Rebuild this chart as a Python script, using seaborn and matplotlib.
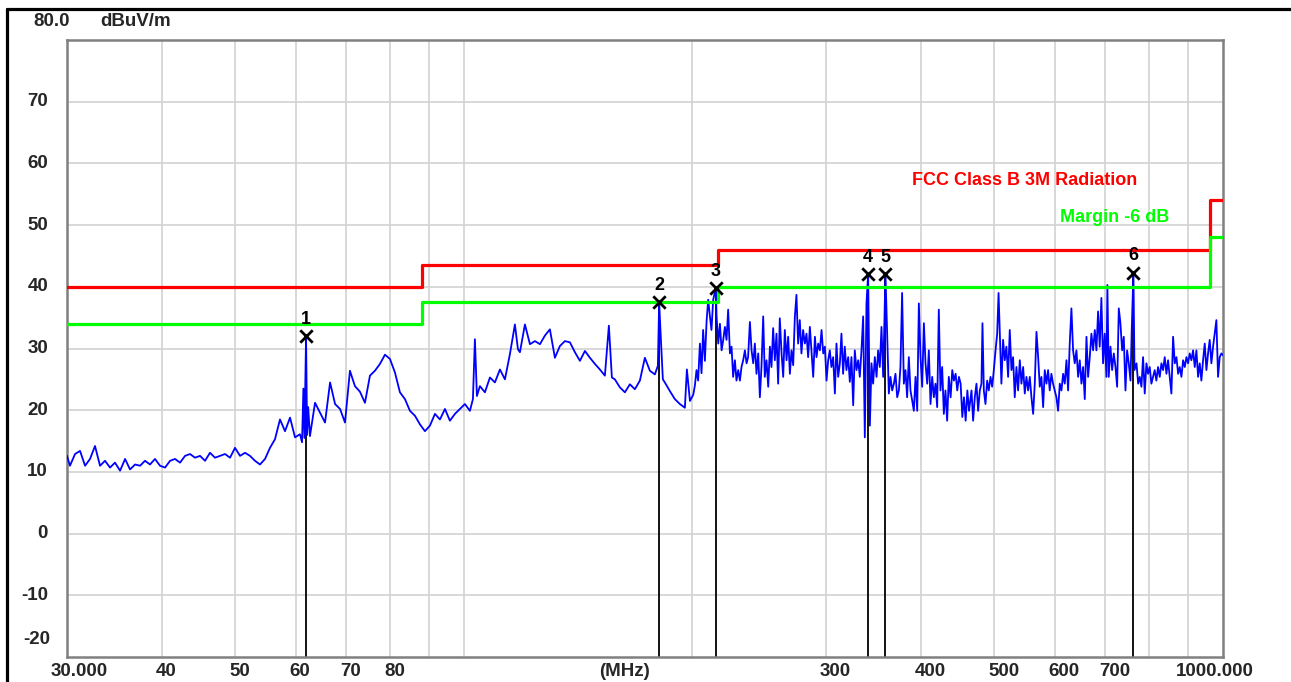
import matplotlib
matplotlib.use("Agg")
import matplotlib.pyplot as plt
import seaborn as sns
from matplotlib.lines import Line2D
from matplotlib.transforms import ScaledTranslation, blended_transform_factory

# ---------------- data ----------------
trace_freq = [
    30.00, 30.27, 30.74, 31.21, 31.69, 32.17, 32.66, 33.16, 33.67, 34.18, 34.70, 35.24, 35.78, 36.32,
    36.88, 37.44, 38.01, 38.59, 39.18, 39.78, 40.39, 41.01, 41.63, 42.27, 42.92, 43.57, 44.24, 44.91,
    45.60, 46.29, 47.00, 47.72, 48.45, 49.19, 49.94, 50.71, 51.48, 52.26, 53.06, 53.87, 54.70, 55.53,
    56.38, 57.24, 58.12, 59.01, 59.91, 60.82, 61.20, 61.45, 61.65, 61.95, 62.15, 62.35,
    62.69, 63.66, 64.63, 65.62, 66.63, 67.65, 68.68, 69.72, 70.77, 71.85, 72.95, 74.07, 75.20, 76.35,
    77.52, 78.70, 79.91, 81.13, 82.36, 83.62, 84.90, 86.20, 87.52, 88.85, 90.21, 91.59, 92.99, 94.41,
    95.84, 97.31, 98.79, 100.30, 101.84, 102.77, 103.39, 104.02, 104.97, 106.58, 108.21, 109.86,
    111.54, 113.25, 114.98, 116.73, 117.80, 118.52, 120.33, 122.17, 124.04, 125.94, 127.86, 129.80,
    131.79, 133.80, 135.85, 137.93, 140.03, 142.17, 144.35, 146.55, 148.79, 151.05, 153.36, 155.23,
    156.65, 158.08, 160.50, 162.95, 165.44, 167.97, 170.54, 173.14, 175.78, 178.47, 180.10, 180.80,
    181.75, 182.85, 183.96, 186.77, 189.63, 192.53, 195.47, 196.67,
    198.5, 200.5, 201.5, 202.5, 203.5, 204.6, 205.6, 206.6, 207.7, 208.8, 209.8, 210.9, 211.9, 213.0,
    214.7, 215.2, 216.3, 217.4, 218.5, 219.6, 220.7, 221.8, 222.9, 224.1, 225.2, 226.3, 227.5, 228.6,
    229.8, 231.0, 232.1, 233.3, 234.5, 235.7, 236.8, 238.1, 239.3, 240.5, 241.7, 242.9, 244.2, 245.4,
    246.6, 247.9, 249.1, 250.4, 251.7, 253.0, 254.2, 255.5, 256.8, 258.1, 259.4, 260.7, 262.1, 263.4,
    264.7, 266.1, 267.4, 268.8, 270.1, 271.5, 272.9, 274.2, 275.6, 277.0, 278.4, 279.8, 281.3, 282.7,
    284.1, 285.6, 287.0, 288.5, 290.0, 291.4, 292.9, 294.4, 295.9, 297.4, 298.9, 300.4, 301.9, 303.4,
    304.9, 306.5, 308.1, 309.6, 311.2, 312.8, 314.3, 315.9, 317.5, 319.1, 320.8, 322.4, 324.0, 325.7,
    327.3, 329.0, 330.7, 332.3, 334.0, 335.7, 337.4, 339.1, 340.8, 342.6, 344.3, 346.0, 347.8, 349.6,
    351.3, 353.1, 354.9, 356.7, 359.2, 361.1, 362.9, 364.7, 366.6, 368.5, 370.3, 372.2, 374.1, 375.9,
    377.8, 379.8, 381.7, 383.6, 385.6, 387.5, 389.5, 391.5, 393.5, 395.5, 397.5, 399.5, 401.5, 403.6,
    405.6, 407.7, 409.7, 411.8, 413.9, 416.0, 418.1, 420.2, 422.3, 424.4, 426.6, 428.8, 430.9, 433.1,
    435.3, 437.7, 439.9, 442.1, 444.4, 446.6, 448.9, 451.2, 453.5, 455.8, 458.1, 460.5, 462.8,
    466.3, 468.6, 471.0, 473.4, 475.8, 478.2, 480.6, 482.1, 484.1, 486.5, 489.0, 491.4, 494.0, 496.5,
    499.0, 501.6, 504.1, 506.2, 508.1, 510.6, 513.2, 515.8, 518.4, 521.1, 523.7, 526.4, 529.0, 531.7,
    534.4, 537.1, 539.9, 542.6, 545.4, 548.1, 550.9, 553.7, 556.5, 559.3, 562.2, 565.0, 567.9, 570.8,
    573.6, 576.5, 579.5, 582.4, 585.4, 588.3, 591.2, 594.2, 597.2, 600.3, 603.3, 606.4, 609.5, 612.6,
    615.7, 618.8, 622.0, 625.1, 628.2, 631.4, 634.6, 637.8, 641.1, 644.4, 647.6, 650.9, 654.2, 657.5,
    660.9, 664.2, 667.5, 670.9, 674.3, 677.8, 681.2, 684.6, 688.0, 691.5, 695.0, 698.6, 702.1, 704.2,
    707.1, 710.8, 714.4, 718.0, 721.7, 725.3, 729.0, 732.6, 736.4, 740.1, 743.9, 747.6, 751.4, 755.3,
    758.3, 762.1, 764.5, 769.2, 773.1, 776.8, 780.8, 784.7, 788.7, 792.7, 796.7, 800.7, 804.8, 808.8,
    812.9, 817.0, 821.2, 825.4, 829.6, 833.8, 838.0, 842.3, 846.5, 850.8, 855.1, 859.5, 863.9, 868.3,
    872.7, 877.0, 881.5, 886.0, 890.5, 895.0, 899.5, 904.0, 908.6, 913.2, 917.9, 922.5, 927.2, 931.8,
    936.5, 941.3, 946.1, 950.9, 955.7, 960.5, 965.4, 970.3, 975.2, 980.1, 985.1, 990.1, 995.1, 1000.0,
]
trace_level = [
    12.6, 11.0, 12.9, 13.4, 11.0, 12.1, 14.2, 11.0, 11.8, 10.7, 11.5, 10.2, 12.1, 10.4,
    11.2, 11.0, 11.8, 11.2, 12.1, 11.0, 10.7, 11.8, 12.1, 11.5, 12.6, 12.9, 12.3, 12.6,
    11.8, 13.1, 12.3, 12.6, 12.9, 12.3, 13.9, 12.6, 13.1, 12.6, 11.8, 11.2, 12.1, 13.9,
    15.3, 18.5, 16.6, 18.8, 15.6, 16.1, 14.8, 23.5, 15.5, 32.0, 16.0, 20.5,
    15.8, 21.2, 19.6, 18.0, 24.5, 21.0, 20.2, 18.0, 26.4, 23.9, 23.0, 21.2, 25.6, 26.4,
    27.5, 29.0, 28.3, 26.1, 22.9, 21.8, 19.9, 19.1, 17.7, 16.6, 17.5, 19.4, 18.5, 20.2,
    18.3, 19.4, 20.2, 21.0, 19.9, 21.8, 31.5, 22.3, 23.9, 22.9, 25.3, 24.5,
    26.6, 25.0, 29.1, 33.9, 29.9, 29.4, 33.9, 30.7, 31.2, 30.7, 32.1, 33.1,
    28.5, 30.4, 31.2, 31.0, 29.4, 28.0, 29.6, 28.5, 27.5, 26.6, 25.6, 33.7,
    25.3, 25.0, 23.7, 22.9, 24.2, 23.4, 24.8, 28.5, 26.4, 25.8, 27.2, 37.5,
    31.5, 25.0, 24.5, 23.1, 21.8, 21.0, 20.4, 26.6,
    21.5, 22.5, 24.0, 26.5, 24.8, 30.8, 26.0, 33.0, 28.0, 34.5, 37.9, 35.2, 33.0, 37.9,
    39.8, 35.2, 30.8, 34.0, 29.7, 31.4, 33.5, 31.4, 36.3, 29.2, 30.3, 25.4, 28.1, 24.8,
    26.5, 24.8, 27.0, 28.1, 29.7, 27.6, 28.6, 34.3, 29.7, 27.6, 30.8, 25.9, 29.2, 22.1,
    27.0, 35.2, 25.4, 28.1, 23.8, 30.3, 27.0, 33.3, 28.1, 32.4, 24.3, 34.9, 29.2, 25.4,
    33.0, 28.1, 31.9, 25.9, 29.7, 27.3, 35.2, 38.7, 30.8, 34.6, 29.2, 33.0, 30.8, 32.4,
    28.6, 33.5, 29.7, 25.4, 31.9, 28.6, 30.8, 29.7, 33.0, 29.2, 30.3, 24.8, 28.1, 29.7,
    27.0, 28.6, 22.7, 30.8, 25.4, 27.6, 32.4, 25.9, 30.3, 26.5, 28.6, 24.6, 28.6, 20.8,
    29.7, 26.5, 28.1, 25.4, 29.7, 35.2, 15.6, 37.3, 42.1, 17.5, 27.6, 24.3, 28.6, 25.4,
    29.7, 27.0, 33.5, 25.4, 42.1, 31.9, 22.7, 25.4, 23.2, 24.3, 25.9, 22.1, 23.2, 27.0,
    39.0, 24.3, 26.5, 22.1, 28.6, 23.2, 21.6, 19.9, 25.4, 19.9, 37.3, 28.6, 23.8, 34.1,
    27.6, 24.3, 29.7, 21.0, 25.4, 22.1, 24.3, 20.5, 36.3, 23.2, 27.0, 19.4, 23.2, 18.3,
    25.4, 22.1, 26.5, 24.8, 25.9, 23.2, 25.4, 24.3, 18.9, 22.1, 18.3, 23.2, 19.9,
    23.2, 18.3, 22.1, 24.3, 19.9, 23.2, 24.3, 34.1, 23.2, 21.0, 24.8, 23.2, 25.4, 23.8,
    26.5, 29.7, 32.4, 39.0, 32.4, 24.3, 31.4, 28.1, 30.3, 25.4, 33.0, 26.5, 28.6, 22.1,
    27.0, 23.2, 28.1, 24.3, 27.0, 22.7, 25.4, 23.2, 25.4, 22.1, 19.4, 24.3, 32.7, 28.6,
    23.8, 25.4, 20.5, 26.5, 24.3, 26.5, 23.2, 25.9, 24.3, 23.2, 22.1, 19.9, 24.3, 23.2,
    25.9, 24.3, 28.1, 23.2, 30.8, 36.5, 29.7, 27.6, 29.7, 25.4, 28.1, 24.3, 27.0, 21.8,
    31.9, 25.4, 28.6, 32.4, 29.7, 33.0, 29.7, 36.0, 30.3, 38.2, 27.6, 32.4, 25.4, 40.3,
    25.4, 30.3, 26.5, 29.2, 27.0, 23.8, 36.5, 34.1, 29.7, 31.9, 23.2, 29.7, 27.6, 24.8,
    33.3, 42.3, 26.5, 27.6, 24.3, 25.4, 23.8, 28.6, 22.7, 27.6, 25.9, 27.0, 24.3, 25.4,
    26.5, 24.8, 27.0, 25.4, 27.6, 26.5, 28.6, 25.9, 28.1, 25.4, 22.7, 31.9, 27.6, 28.6,
    25.9, 27.0, 25.4, 28.1, 27.0, 28.6, 27.6, 29.2, 28.1, 29.7, 27.0, 29.7, 25.4, 27.6,
    24.8, 28.1, 30.8, 26.5, 29.2, 31.4, 27.6, 30.3, 32.4, 34.6, 25.4, 28.6, 29.2, 28.9,
]

limit_freq = [30, 88, 216, 960, 1000]
fcc_limit = [40.0, 43.5, 46.0, 54.0, 54.0]
margin_limit = [34.0, 37.5, 40.0, 48.0, 48.0]

marker_ids = ["1", "2", "3", "4", "5", "6"]
marker_freq = [61.95, 180.8, 214.7, 340.8, 359.2, 762.1]
marker_level = [32.0, 37.5, 39.8, 42.1, 42.1, 42.3]

x_grid = [40, 50, 60, 70, 80, 90, 100, 200, 300, 400, 500, 600, 700, 800, 900]
x_label_ticks = [40, 50, 60, 70, 80, 300, 400, 500, 600, 700]
y_ticks = [-10, 0, 10, 20, 30, 40, 50, 60, 70]

# ---------------- style ----------------
sns.set_style("white")
plt.rcParams["font.family"] = ["Liberation Sans", "DejaVu Sans"]
plt.rcParams["font.weight"] = "bold"

W, H = 1291, 682
fig = plt.figure(figsize=(W / 100, H / 100), dpi=100)
ax = fig.add_axes([67 / W, 1 - 657 / H, (1223 - 67) / W, (657 - 40) / H])
ax.set_xscale("log")

BLUE, RED, GREEN = "#0000ff", "#ff0000", "#00ff00"

# marker drop lines
ax.vlines(marker_freq, -20, marker_level, color="black", lw=1.3, zorder=2)

# trace
sns.lineplot(x=trace_freq, y=trace_level, ax=ax, color=BLUE, lw=1.3,
             estimator=None, sort=False, zorder=3)

# limit lines
sns.lineplot(x=limit_freq, y=fcc_limit, ax=ax, color=RED, lw=2.3,
             drawstyle="steps-post", estimator=None, zorder=4)
sns.lineplot(x=limit_freq, y=margin_limit, ax=ax, color=GREEN, lw=2.3,
             drawstyle="steps-post", estimator=None, zorder=4)

# markers
sns.scatterplot(x=marker_freq, y=marker_level, ax=ax, marker="x", s=80,
                color="black", linewidth=2.0, zorder=6)
for mid, f, lv in zip(marker_ids, marker_freq, marker_level):
    ax.annotate(mid, (f, lv), xytext=(0, 6.0), textcoords="offset points",
                ha="center", va="bottom", fontsize=13, fontweight="bold",
                color="black", zorder=7)

ax.set_xlim(30, 1000)
ax.set_ylim(-20, 80)
ax.set_xlabel("")
ax.set_ylabel("")
ax.xaxis.set_minor_locator(matplotlib.ticker.NullLocator())
ax.set_xticks(x_grid)
ax.set_yticks(y_ticks)
ax.tick_params(length=0, labelbottom=False, labelleft=False)
ax.grid(True, color="#d2d2d2", lw=1.2, zorder=0)
ax.set_axisbelow(True)
for sp in ax.spines.values():
    sp.set_color("#808080")
    sp.set_linewidth(1.8)
    sp.set_visible(True)

FS = 13.5
# y labels
ytr = blended_transform_factory(ax.transAxes, ax.transData)
for v in y_ticks:
    ax.text(0, v, str(v), transform=ytr + ScaledTranslation(-0.19, 0, fig.dpi_scale_trans),
            ha="right", va="center", fontsize=FS, fontweight="bold")
ax.text(0, -20, "-20", transform=ytr + ScaledTranslation(-0.17, 0.18, fig.dpi_scale_trans),
        ha="right", va="center", fontsize=FS, fontweight="bold")
fig.text(33 / W, 1 - 22 / H, "80.0", ha="left", va="center", fontsize=FS, fontweight="bold")
fig.text(100 / W, 1 - 22 / H, "dBuV/m", ha="left", va="center", fontsize=FS, fontweight="bold")

# x labels
xtr = blended_transform_factory(ax.transData, ax.transAxes)
def xlab(x, s, dx, ha):
    ax.text(x, 0, s, transform=xtr + ScaledTranslation(dx / 100, -0.14, fig.dpi_scale_trans),
            ha=ha, va="center", fontsize=FS, fontweight="bold")
xlab(30, "30.000", 12, "center")
for v in x_label_ticks:
    xlab(v, str(v), -6, "left")
xlab(163, "(MHz)", 0, "center")
xlab(1000, "1000.000", -8, "center")

# legend texts
ax.text(389, 57.2, "FCC Class B 3M Radiation", color=RED, fontsize=13,
        fontweight="bold", ha="left", va="center")
ax.text(610, 51.2, "Margin -6 dB", color=GREEN, fontsize=13,
        fontweight="bold", ha="left", va="center")

# outer frame (top and left)
fig.add_artist(Line2D([6.5 / W, 1], [1 - 8.5 / H, 1 - 8.5 / H], color="black", lw=2.3,
                      transform=fig.transFigure))
fig.add_artist(Line2D([6.5 / W, 6.5 / W], [0, 1 - 8.5 / H], color="black", lw=2.3,
                      transform=fig.transFigure))

fig.savefig("out.png", dpi=100)
